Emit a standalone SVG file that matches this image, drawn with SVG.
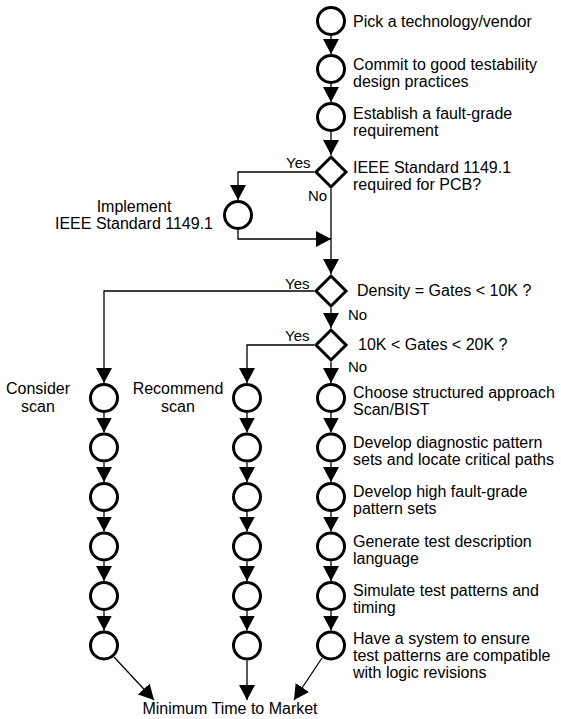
<svg xmlns="http://www.w3.org/2000/svg" width="561" height="719" viewBox="0 0 561 719">
<style>
.n{fill:none;stroke:#000;stroke-width:3}
.c{fill:none;stroke:#000;stroke-width:1.3}
.a{marker-end:url(#ah)}
text{font-family:"Liberation Sans",Arial,sans-serif;font-size:16px;fill:#000}
.yn{font-size:15px}
.m{text-anchor:middle}
</style>
<defs>
<marker id="ah" markerUnits="userSpaceOnUse" markerWidth="15" markerHeight="16" viewBox="0 0 15 16" refX="15" refY="8" orient="auto"><path d="M0,0 L15,8 L0,16 z" fill="#000"/></marker>
</defs>
<rect width="561" height="719" fill="#fff"/>
<g id="connectors">
<path class="c a" d="M331,36 V54"/>
<path class="c a" d="M331,84 V102"/>
<path class="c a" d="M331,132 V155"/>
<path class="c a" d="M314,172 H238 V200"/>
<path class="c a" d="M238,230 V239 H331"/>
<path class="c a" d="M331,189 V274"/>
<path class="c a" d="M314,291 H104 V383"/>
<path class="c a" d="M331,308 V328"/>
<path class="c a" d="M314,345 H247 V383"/>
<path class="c a" d="M331,362 V383"/>
<path class="c a" d="M104,413 V432.5"/>
<path class="c a" d="M104,462.5 V482"/>
<path class="c a" d="M104,512 V531.5"/>
<path class="c a" d="M104,561.5 V581"/>
<path class="c a" d="M104,611 V630.5"/>
<path class="c a" d="M247,413 V432.5"/>
<path class="c a" d="M247,462.5 V482"/>
<path class="c a" d="M247,512 V531.5"/>
<path class="c a" d="M247,561.5 V581"/>
<path class="c a" d="M247,611 V630.5"/>
<path class="c a" d="M331,413 V432.5"/>
<path class="c a" d="M331,462.5 V482"/>
<path class="c a" d="M331,512 V531.5"/>
<path class="c a" d="M331,561.5 V581"/>
<path class="c a" d="M331,611 V630.5"/>
<path class="c a" d="M114,657 L154,700"/>
<path class="c a" d="M247,660.5 V700"/>
<path class="c a" d="M322,658 L294,700"/>
</g>
<g id="n1"><circle class="n" cx="331" cy="21" r="13.5"/><text x="353" y="27">Pick a technology/vendor</text></g>
<g id="n2"><circle class="n" cx="331" cy="69" r="13.5"/><text x="353" y="70">Commit to good testability</text><text x="353" y="87">design practices</text></g>
<g id="n3"><circle class="n" cx="331" cy="117" r="13.5"/><text x="353" y="119">Establish a fault-grade</text><text x="353" y="136">requirement</text></g>
<g id="d1"><path class="n" d="M331,157 L346,172 L331,187 L316,172 Z"/><text x="353" y="173">IEEE Standard 1149.1</text><text x="353" y="190">required for PCB?</text><text class="yn" x="286" y="168">Yes</text><text class="yn" x="308" y="201">No</text></g>
<g id="impl"><circle class="n" cx="238" cy="215" r="13.5"/><text class="m" x="134" y="212">Implement</text><text class="m" x="134" y="229">IEEE Standard 1149.1</text></g>
<g id="d2"><path class="n" d="M331,276 L346,291 L331,306 L316,291 Z"/><text x="357" y="296">Density = Gates &lt; 10K ?</text><text class="yn" x="285" y="289">Yes</text><text class="yn" x="348" y="320">No</text></g>
<g id="d3"><path class="n" d="M331,330 L346,345 L331,360 L316,345 Z"/><text x="358" y="350">10K &lt; Gates &lt; 20K ?</text><text class="yn" x="285" y="341">Yes</text><text class="yn" x="348" y="372">No</text></g>
<g id="col1">
<text class="m" x="38" y="394">Consider</text><text class="m" x="38" y="412">scan</text>
<circle class="n" cx="104" cy="398" r="13.5"/><circle class="n" cx="104" cy="447.5" r="13.5"/><circle class="n" cx="104" cy="497" r="13.5"/><circle class="n" cx="104" cy="546.5" r="13.5"/><circle class="n" cx="104" cy="596" r="13.5"/><circle class="n" cx="104" cy="645.5" r="13.5"/>
</g>
<g id="col2">
<text class="m" x="178" y="394">Recommend</text><text class="m" x="178" y="412">scan</text>
<circle class="n" cx="247" cy="398" r="13.5"/><circle class="n" cx="247" cy="447.5" r="13.5"/><circle class="n" cx="247" cy="497" r="13.5"/><circle class="n" cx="247" cy="546.5" r="13.5"/><circle class="n" cx="247" cy="596" r="13.5"/><circle class="n" cx="247" cy="645.5" r="13.5"/>
</g>
<g id="s1"><circle class="n" cx="331" cy="398" r="13.5"/><text x="353" y="398">Choose structured approach</text><text x="353" y="415">Scan/BIST</text></g>
<g id="s2"><circle class="n" cx="331" cy="447.5" r="13.5"/><text x="353" y="448">Develop diagnostic pattern</text><text x="353" y="465">sets and locate critical paths</text></g>
<g id="s3"><circle class="n" cx="331" cy="497" r="13.5"/><text x="353" y="497">Develop high fault-grade</text><text x="353" y="514">pattern sets</text></g>
<g id="s4"><circle class="n" cx="331" cy="546.5" r="13.5"/><text x="353" y="547">Generate test description</text><text x="353" y="564">language</text></g>
<g id="s5"><circle class="n" cx="331" cy="596" r="13.5"/><text x="353" y="596">Simulate test patterns and</text><text x="353" y="613">timing</text></g>
<g id="s6"><circle class="n" cx="331" cy="645.5" r="13.5"/><text x="353" y="644">Have a system to ensure</text><text x="353" y="661">test patterns are compatible</text><text x="353" y="678">with logic revisions</text></g>
<g id="end"><text class="m" x="230" y="714">Minimum Time to Market</text></g>
</svg>
